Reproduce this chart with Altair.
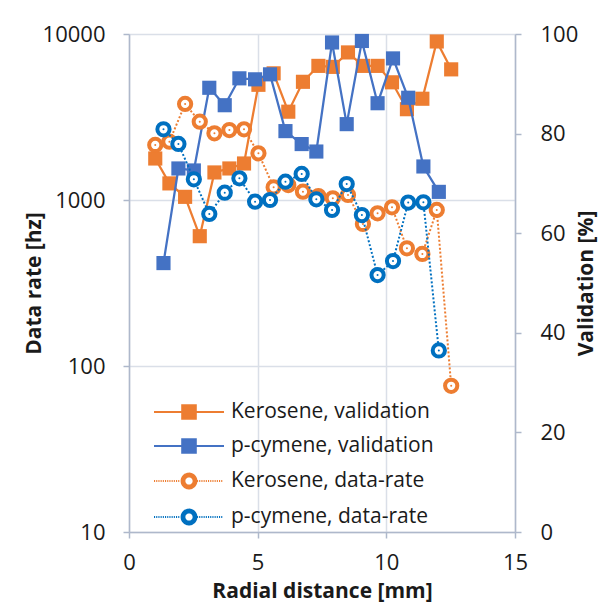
import altair as alt
import pandas as pd

# ---------------- data ----------------
ker_x = [1.02, 1.57, 2.18, 2.75, 3.32, 3.90, 4.47, 5.03, 5.62, 6.19, 6.76,
         7.36, 7.92, 8.51, 9.09, 9.66, 10.22, 10.80, 11.40, 11.96, 12.52]
ker_validation = [75.0, 70.0, 67.3, 59.4, 72.2, 73.0, 74.0, 89.8, 92.1, 84.4, 90.4,
                  93.6, 93.4, 96.3, 93.6, 93.6, 90.3, 84.9, 87.0, 98.5, 92.9]
ker_rate = [2145, 2245, 3790, 2965, 2520, 2640, 2665, 1911, 1193, 1231, 1122,
            1057, 1024, 1072, 717, 831, 903, 512, 473, 871, 76]

pcy_x = [1.34, 1.92, 2.52, 3.12, 3.72, 4.29, 4.90, 5.48, 6.08, 6.71, 7.28,
         7.89, 8.46, 9.05, 9.66, 10.26, 10.85, 11.44, 12.04]
pcy_validation = [54.0, 73.0, 72.6, 89.2, 85.7, 91.1, 90.9, 91.9, 80.5, 77.9, 76.4,
                  98.3, 81.9, 98.6, 86.1, 95.1, 87.2, 73.4, 68.3]
pcy_rate = [2667, 2175, 1333, 824, 1106, 1351, 977, 1000, 1289, 1435, 1010,
            871, 1248, 812, 353, 429, 965, 969, 124]

series_names = ["Kerosene, validation", "p-cymene, validation",
                "Kerosene, data-rate", "p-cymene, data-rate"]
series_colors = ["#ED7D31", "#4472C4", "#ED7D31", "#0070C0"]

rows = []
for name, xs, ys in [(series_names[0], ker_x, ker_validation),
                     (series_names[1], pcy_x, pcy_validation),
                     (series_names[2], ker_x, ker_rate),
                     (series_names[3], pcy_x, pcy_rate)]:
    for xv, yv in zip(xs, ys):
        rows.append({"series": name, "x": xv, "y": yv})
df = pd.DataFrame(rows)

# ---------------- styling ----------------
FONT = "Open Sans"
TXT = "#1a1a1a"
AX = "#AEB8CB"
GRID = "#DADFE8"

# legend symbol: unit = 10 px (symbolSize 400); drawn from x=-1 to x=6
def dotted(a, b, seg=0.11, gap=0.11):
    parts = []
    x = a
    while x + seg <= b + 1e-9:
        parts.append(f"M{x:.3f},0H{x + seg:.3f}")
        x += seg + gap
    return "".join(parts)


def circle(cx, r, sweep):
    return (f"M{cx + r:.3f},0A{r:.3f},{r:.3f} 0 1,{sweep} {cx - r:.3f},0"
            f"A{r:.3f},{r:.3f} 0 1,{sweep} {cx + r:.3f},0Z")


MC = 2.5  # marker centre
sq_h = 0.68
sq_path = (f"M-1,0H6M{MC - sq_h:.2f},{-sq_h:.2f}H{MC + sq_h:.2f}V{sq_h:.2f}"
           f"H{MC - sq_h:.2f}Z")
ring_path = (dotted(-1, MC - 0.8) + dotted(MC + 0.8, 6)
             + circle(MC, 0.74, 1) + circle(MC, 0.46, 0))
shape_expr = f"indexof(datum.value, 'validation') >= 0 ? '{sq_path}' : '{ring_path}'"
col_expr = "scale('color', datum.value)"

legend = alt.Legend(
    title=None, orient="none", legendX=24, legendY=367, padding=0,
    symbolSize=400, labelFont=FONT, labelFontSize=21, labelColor=TXT,
    labelOffset=56, rowPadding=12, labelLimit=400,
    symbolType={"expr": shape_expr},
    symbolFillColor={"expr": col_expr},
    symbolStrokeColor={"expr": col_expr},
    symbolStrokeWidth=2, symbolOpacity=1, symbolDash=[1, 0],
)

color = alt.Color("series:N", scale=alt.Scale(domain=series_names, range=series_colors),
                  legend=legend)

axis_common = dict(labelFont=FONT, labelFontSize=22, labelColor=TXT,
                   titleFont=FONT, titleFontSize=21, titleFontWeight="bold",
                   titleColor=TXT, domainColor=AX, domainWidth=1.5, tickColor=AX,
                   tickWidth=1.5, tickSize=6, gridColor=GRID, gridWidth=1.5,
                   labelFlush=False, labelOverlap=False)

X = alt.X("x:Q", scale=alt.Scale(domain=[0, 15], nice=False),
          axis=alt.Axis(values=[0, 5, 10, 15], grid=True, title="Radial distance [mm]",
                        labelPadding=14, titleX=193, titleY=59, titleAlign="center",
                        titleBaseline="middle", **axis_common))

Y_val = alt.Y("y:Q", scale=alt.Scale(domain=[0, 100], nice=False),
              axis=alt.Axis(values=[0, 20, 40, 60, 80, 100], orient="right", grid=False,
                            title="Validation [%]", labelPadding=19, titleX=71, titleY=249,
                            titleAngle=270, titleAlign="center", titleBaseline="middle",
                            **axis_common))

Y_rate = alt.Y("y:Q", scale=alt.Scale(type="log", domain=[10, 10000], nice=False),
               axis=alt.Axis(values=[10, 100, 1000, 10000], format="d", orient="left",
                             grid=True, title="Data rate [hz]", labelPadding=18,
                             titleX=-95, titleY=249, titleAngle=270, titleAlign="center",
                             titleBaseline="middle", **axis_common))


def val_layers(name):
    base = alt.Chart().transform_filter(alt.datum.series == name)
    line = base.mark_line(strokeWidth=2.25).encode(x=X, y=Y_val, color=color)
    pts = base.mark_square(size=200, opacity=1).encode(x=X, y=Y_val, color=color)
    return [line, pts]


def rate_layers(name):
    base = alt.Chart().transform_filter(alt.datum.series == name)
    line = base.mark_line(strokeWidth=2, strokeDash=[2, 2]).encode(x=X, y=Y_rate, color=color)
    ring = base.mark_point(shape="circle", filled=False, fill="white", size=150,
                           strokeWidth=4, opacity=1).encode(x=X, y=Y_rate, color=color)
    dot = base.mark_point(shape="circle", filled=True, size=4, opacity=1).encode(
        x=X, y=Y_rate, color=color)
    return [line, ring, dot]


val_group = alt.layer(*val_layers(series_names[0]), *val_layers(series_names[1]))
rate_group = alt.layer(*rate_layers(series_names[2]), *rate_layers(series_names[3]))

chart = alt.layer(val_group, rate_group, data=df).resolve_scale(y="independent").properties(
    width=386, height=498,
    padding={"left": 121, "top": 26, "right": 85, "bottom": 70},
    autosize=alt.AutoSizeParams(type="none"),
).configure_view(stroke=None)

chart.save("out.html", embed_options={"renderer": "svg", "actions": False})
